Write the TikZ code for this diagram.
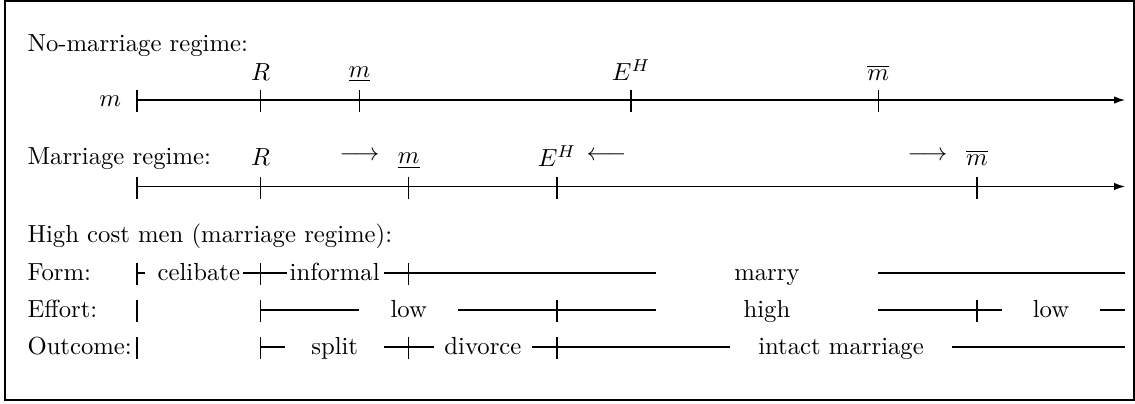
\documentclass[tikz,border=0pt]{standalone}
\usepackage{amsmath}
\usepackage{amssymb}
\usepackage{tikz}
\usetikzlibrary{
    arrows.meta
}

\begin{document}
\begin{tikzpicture}[x=1pt, y=1pt, line width=0.5pt,
    numline/.style={-{Latex[length=4.5pt,width=3pt]}},
    lbl/.style={anchor=base, inner sep=0pt},
    rowlbl/.style={anchor=base west, inner sep=0pt}]

% Frame
\useasboundingbox (-55.5,-122.7) rectangle (404,40.5);
\draw[line width=0.8pt] (-53.4,-121.3) rectangle (403.6,40.1);

% No-marriage regime
\node[rowlbl] (nomar) at (-44.6,19.6) {No-marriage regime:};
\node[anchor=base east, inner sep=0pt] (mvar) at (-6.2,-2.7) {$m$};
\draw[numline] (0,0) -- (400,0);
\foreach \x in {0,50,90,200,300} \draw (\x,4) -- (\x,-5);
\node[lbl] (R1) at (50,8) {$R$};
\node[lbl] (mlo1) at (90,9.2) {$\underline{m}$};
\node[lbl] (EH1) at (200,8) {$E^H$};
\node[lbl] (mhi1) at (300,8) {$\overline{m}$};

% Marriage regime
\node[rowlbl] (mar) at (-44.6,-26.2) {Marriage regime:};
\draw[numline] (0,-35) -- (400,-35);
\foreach \x in {0,50,110,170,340} \draw (\x,-31) -- (\x,-40);
\node[lbl] (R2) at (50,-26.7) {$R$};
\node[lbl] (mlo2) at (110,-25.8) {$\underline{m}$};
\node[lbl] (EH2) at (170,-26.9) {$E^H$};
\node[lbl] (mhi2) at (340,-26.5) {$\overline{m}$};
\node[lbl] (arr1) at (90,-24.5) {$\longrightarrow$};
\node[lbl] (arr2) at (190,-24.5) {$\longleftarrow$};
\node[lbl] (arr3) at (320,-24.5) {$\longrightarrow$};

% High cost men
\node[rowlbl] (high) at (-44.6,-57.5) {High cost men (marriage regime):};
\node[rowlbl] (form) at (-44.6,-73.2) {Form:};
\node[rowlbl] (effort) at (-44.6,-88.2) {Effort:};
\node[rowlbl] (outc) at (-44.6,-103.2) {Outcome:};

% Form
\foreach \x in {0,50,110} \draw (\x,-66) -- (\x,-75);
\draw (0,-70) -- (3.2,-70) (43,-70) -- (60.5,-70) (100,-70) -- (210,-70) (300,-70) -- (400,-70);
\node[lbl] (celib) at (25,-73.2) {celibate};
\node[lbl] (inform) at (80,-73.2) {informal};
\node[lbl] (marry) at (255,-73.2) {marry};

% Effort
\foreach \x in {0,50,170,340} \draw (\x,-81) -- (\x,-90);
\draw (50,-85) -- (90,-85) (130,-85) -- (210,-85) (300,-85) -- (350,-85) (390,-85) -- (400,-85);
\node[lbl] (low1) at (110,-88.2) {low};
\node[lbl] (hi) at (255,-88.2) {high};
\node[lbl] (low2) at (370,-88.2) {low};

% Outcome
\foreach \x in {0,50,110,170} \draw (\x,-96) -- (\x,-105);
\draw (50,-100) -- (60,-100) (100,-100) -- (120,-100) (160,-100) -- (240,-100) (330,-100) -- (400,-100);
\node[lbl] (split) at (80,-103.2) {split};
\node[lbl] (divorce) at (140,-103.2) {divorce};
\node[lbl] (intact) at (285,-103.2) {intact marriage};

\end{tikzpicture}
\end{document}
